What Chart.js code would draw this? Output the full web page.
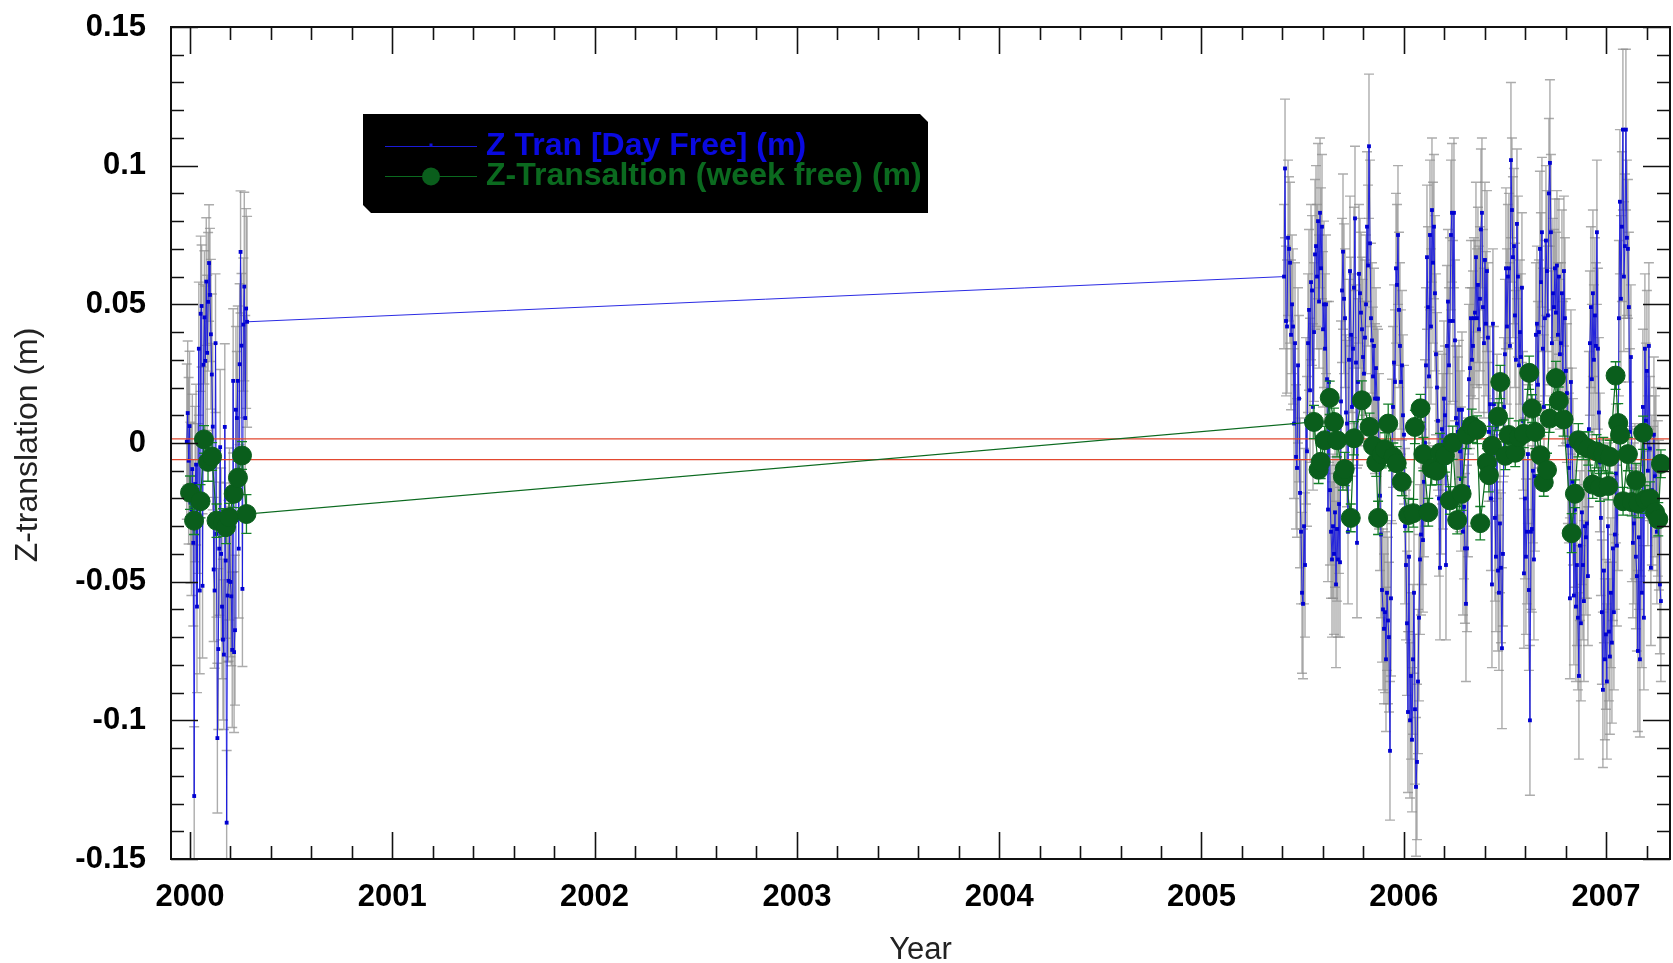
<!DOCTYPE html>
<html>
<head>
<meta charset="utf-8">
<script src="https://cdn.jsdelivr.net/npm/chart.js@4.4.1/dist/chart.umd.min.js"></script>
<style>
  html, body { margin: 0; padding: 0; background: #ffffff; }
  canvas { display: block; }
</style>
</head>
<body>
<canvas id="chart" width="1673" height="963"></canvas>
<script>
// ---- Daily solutions (Z translation, metres), first campaign early 2000 ----
const dayStart2000 = 1999.984;
const dayEnd2000 = 2000.282;
const dayZ2000 = [
  0.0005, 0.0108, -0.0064, 0.0061, -0.0215, -0.0240, -0.0094, -0.0360, -0.1273, -0.0148,
  -0.0078, -0.0590, -0.0200, 0.0340, -0.0532, 0.0466, 0.0494, -0.0515, 0.0282, 0.0453,
  0.0296, 0.0582, 0.0325, 0.0509, 0.0649, 0.0534, 0.0392, 0.0247, 0.0059, -0.0456,
  -0.0532, 0.0360, -0.0328, -0.1064, -0.0743, -0.0381, -0.0015, -0.0400, -0.0590, -0.0709,
  -0.0763, 0.0058, -0.0424, -0.1369, -0.0550, -0.0497, -0.0328, -0.0501, -0.0553, -0.0746,
  0.0224, -0.0754, -0.0675, 0.0120, 0.0090, 0.0224, -0.0381, 0.0284, 0.0689, 0.0351,
  -0.0526, 0.0427, 0.0564, 0.0090, 0.0485, 0.0437
];
// one-sigma of each daily value, millimetres
const dayErrMm2000 = [
  28,26,30,27,29,31,27,30,25,28, 29,31,27,24,30,28,22,26,29,24,
  27,23,28,25,21,24,27,29,30,26, 28,25,30,27,29,24,28,31,26,29,
  27,30,28,26,24,29,31,27,25,28, 26,29,27,30,24,27,25,29,22,26,
  28,24,34,37,36,38
];

// ---- Daily solutions, second campaign mid 2005 - 2007 ----
const dayStart2005 = 2005.408;
const dayEnd2005 = 2007.271;
const dayZ2005 = [
  0.060, 0.099, 0.044, 0.042, 0.074, 0.070, 0.065, 0.039, 0.050, 0.042,
  0.007, 0.036, -0.005, -0.009, 0.028, 0.016, -0.018, -0.032, -0.054, -0.058,
  -0.030, -0.044, 0.008, -0.003, 0.036, 0.048, 0.019, 0.058, 0.055, 0.013,
  0.040, 0.068, 0.071, 0.060, 0.080, 0.051, 0.083, 0.063, 0.078, 0.041,
  0.050, 0.034, 0.050, 0.023, -0.024, 0.022, -0.017, -0.032, -0.042, -0.030,
  -0.040, -0.025, -0.051, -0.031, -0.042, -0.022, -0.043, 0.015, 0.055, 0.069,
  0.052, 0.045, 0.011, 0.007, -0.032, 0.030, 0.062, 0.039, 0.013, 0.034,
  0.056, 0.081, 0.029, -0.036, 0.022, 0.061, 0.054, 0.047, 0.041, 0.031,
  0.025, 0.038, 0.050, 0.078, 0.064, 0.107, 0.072, 0.045, 0.037, 0.024,
  0.035, 0.016, 0.027, 0.016,
  0.016, -0.003, -0.019, -0.033, -0.053, -0.060, -0.067, -0.061, -0.078, -0.054,
  -0.064, -0.070, -0.111, -0.056, -0.003, 0.013, 0.029, 0.022, 0.063, 0.057,
  0.075, 0.048, 0.035, 0.022, 0.028, 0.010, 0.003, -0.030, -0.044, -0.065,
  -0.097, -0.041, -0.100, -0.084, -0.107, -0.078, -0.054, -0.096, -0.124, -0.115,
  -0.086, -0.063, -0.042, -0.033, -0.023, -0.035, -0.014, 0.000, 0.028, 0.067,
  0.049, 0.024, 0.075, 0.042, 0.084, 0.065, 0.078, 0.054, 0.032, 0.020,
  0.008, -0.020, -0.045, -0.010, 0.005, -0.003, 0.016, 0.010, -0.044, 0.035,
  0.051, 0.028, 0.044, 0.075, 0.083, 0.044, 0.083, 0.037, 0.009, 0.007,
  0.004, 0.012, -0.003, -0.013, 0.012, -0.032, -0.023, -0.038, -0.058, -0.038,
  -0.016, 0.023, 0.027, 0.045, 0.030, 0.035, 0.045,
  0.047, 0.067, 0.045, 0.057, 0.041, 0.052, 0.077, 0.083, 0.049, 0.036,
  0.066, 0.043, 0.062, 0.038, 0.004, 0.014, -0.020, -0.051, 0.043, 0.014,
  -0.027, -0.041, 0.006, -0.046, -0.054, -0.029, -0.045, -0.074, -0.040, 0.013,
  0.032, 0.063, 0.042, 0.060, 0.063, 0.035, 0.102, 0.084, 0.067, 0.071,
  0.046, 0.030, 0.079, 0.060, 0.028, 0.040, 0.031, 0.056, 0.008, -0.047,
  -0.020, -0.041, -0.032, -0.004, -0.053, -0.100, -0.032, -0.031, -0.010, -0.042,
  -0.012, 0.039, 0.043, 0.021, 0.040, 0.070, 0.058, 0.076, 0.034, 0.013,
  0.045, 0.073, 0.062, 0.046, 0.090, 0.101, 0.076, 0.036, 0.054, 0.049,
  0.063, 0.047, 0.064, 0.039, 0.060, 0.032, 0.036, 0.054, 0.025, 0.062,
  0.045, 0.026, 0.018, -0.001, -0.009, -0.056,
  0.022, -0.001, -0.014, -0.055, -0.024, -0.059, -0.044, -0.063, -0.084, -0.037,
  -0.065, -0.025, -0.044, -0.057, -0.030, -0.034, -0.029, -0.048, 0.005, 0.036,
  0.049, 0.023, 0.054, 0.030, 0.046, 0.035, 0.076, 0.034, 0.011, -0.007,
  -0.027, -0.061, -0.089, -0.046, -0.078, -0.069, -0.086, -0.030, -0.068, -0.077,
  -0.054, -0.072, -0.038, -0.061, -0.033, -0.011, -0.037, -0.019, 0.045, 0.087,
  0.052, 0.078, 0.113, 0.060, 0.071, 0.113, 0.074, 0.070, 0.049, 0.004,
  0.031, -0.022, -0.036, -0.029, -0.021, -0.041, -0.048, -0.075, -0.034, -0.078,
  -0.023, -0.054, 0.013, -0.063, 0.034, 0.008, 0.026, -0.010, 0.035, -0.002,
  -0.045, -0.017, -0.020, 0.003, -0.012, -0.007, -0.032, -0.020, -0.026, -0.051,
  -0.057
];
const dayErrMm2005 = [
  26,25,27,24,28,26,29,27,25,28, 27,29,26,25,28,30,27,26,29,27,
  28,26,30,27,25,29,26,28,27,30, 25,27,29,26,28,24,27,29,26,28,
  30,27,25,28,26,29,27,24,28,26, 29,27,30,26,28,25,27,29,26,28,
  27,25,28,30,26,29,27,28,25,27, 29,26,28,27,30,25,27,29,26,28,
  26,28,25,27,29,26,30,27,28,25, 28,27,29,26,25,28,27,30,26,29,
  27,29,26,28,30,27,25,28,26,29, 28,26,27,29,25,28,30,26,27,29,
  25,28,27,26,29,27,28,30,26,27, 29,27,25,28,26,30,27,29,28,26,
  27,30,28,26,29,25,27,28,26,29, 26,28,29,27,25,28,26,30,27,28,
  28,25,27,29,26,28,30,27,25,29, 27,29,26,28,27,25,29,26,28,30,
  26,27,28,30,25,27,29,28,26,27, 29,26,27,25,28,30,26,29,27,28,
  27,28,26,29,27,25,28,26,30,27, 28,30,27,26,29,28,25,27,29,26,
  25,27,29,28,26,27,30,28,26,29, 28,26,25,27,29,28,26,30,27,25,
  27,29,28,26,25,29,27,28,30,26, 29,27,26,28,30,26,28,25,27,29,
  26,28,27,29,25,27,30,28,26,27, 28,25,29,27,26,28,27,29,30,26,
  27,29,26,25,28,27,29,26,28,30, 25,28,27,29,26,30,27,28,26,27,
  29,26,28,27,25,28,26,29,27,30, 27,28,30,26,29,27,25,28,26,28,
  26,29,27,28,30,25,28,27,29,26, 28,27,25,29,27,28,26,30,27,29,
  27,26,29,28,25,27,30,26,28,27, 29,28,26,27,29,26,28,25,27,28,
  26,27,28,29,27,30,26,28,27,26, 28,29,27,26,28,27,25,29
];

// ---- Weekly solutions (Z translation, metres) ----
const weekYears = [
  2000.000, 2000.020, 2000.052, 2000.069, 2000.089, 2000.109, 2000.131, 2000.163, 2000.178, 2000.193,
  2000.216, 2000.237, 2000.257, 2000.279,
  2005.556, 2005.579, 2005.589, 2005.609, 2005.634, 2005.655, 2005.670, 2005.699, 2005.708, 2005.738,
  2005.754, 2005.793, 2005.831, 2005.848, 2005.864, 2005.873, 2005.891, 2005.907, 2005.923, 2005.948,
  2005.965, 2005.990, 2006.022, 2006.047, 2006.055, 2006.083, 2006.097, 2006.121, 2006.138, 2006.163,
  2006.179, 2006.204, 2006.228, 2006.242, 2006.264, 2006.286, 2006.311, 2006.336, 2006.362, 2006.378,
  2006.411, 2006.421, 2006.436, 2006.466, 2006.477, 2006.502, 2006.519, 2006.551, 2006.568, 2006.593,
  2006.620, 2006.634, 2006.650, 2006.675, 2006.692, 2006.708, 2006.721, 2006.752, 2006.766, 2006.790,
  2006.830, 2006.846, 2006.863, 2006.887, 2006.912, 2006.934, 2006.953, 2006.970, 2006.986, 2007.011,
  2007.019, 2007.047, 2007.060, 2007.069, 2007.084, 2007.108, 2007.127, 2007.148, 2007.159, 2007.183,
  2007.193, 2007.217, 2007.242, 2007.258, 2007.271
];
const weekZ = [
  -0.0179, -0.0280, -0.0210, 0.0013, -0.0068, -0.0049, -0.0280, -0.0287, -0.0303, -0.0268,
  -0.0183, -0.0125, -0.0045, -0.0256,
  0.0076, -0.0096, -0.0068, 0.0010, 0.0163, 0.0076, 0.0010, -0.0120, -0.0094, -0.0270,
  0.0017, 0.0154, 0.0058, -0.0010, -0.0070, -0.0270, -0.0040, -0.0023, 0.0070, -0.0050,
  -0.0073, -0.0140, -0.0260, -0.0253, 0.0058, 0.0125, -0.0040, -0.0250, -0.0092, -0.0100,
  -0.0035, -0.0045, -0.0207, 0.0001, -0.0278, -0.0183, 0.0030, 0.0062, 0.0048, -0.0289,
  -0.0070, -0.0116, -0.0010, 0.0095, 0.0220, -0.0046, 0.0029, -0.0035, 0.0020, 0.0033,
  0.0253, 0.0124, 0.0040, -0.0044, -0.0142, -0.0097, 0.0088, 0.0234, 0.0152, 0.0085,
  -0.0325, -0.0183, 0.0010, -0.0010, -0.0020, -0.0150, -0.0030, -0.0160, -0.0040, -0.0155,
  -0.0050, 0.0243, 0.0072, 0.0030, -0.0210, -0.0040, -0.0213, -0.0134, -0.0219, 0.0037,
  -0.0204, -0.0200, -0.0250, -0.0275, -0.0075
];
const weekErrMm = [
  6,5,6,5,7,5,6,5,6,5, 5,6,5,7,6,5,6,5,6,5,
  6,5,6,5,6,7,5,6,5,6, 5,6,7,5,6,5,6,5,6,5,
  6,5,6,5,7,6,5,6,5,6, 5,6,5,6,5,6,7,5,6,5,
  6,5,6,5,6,5,6,7,5,6, 5,6,5,6,7,5,6,5,6,5,
  6,5,6,5,6,5,7,6,5,6, 5,6,5,6,5,6,5,6,5
];

// ---- Reference levels and axis ticks ----
const refLevels = [0.0015, -0.0060];
const xTickYears = [2000, 2001, 2002, 2003, 2004, 2005, 2006, 2007];
const yTickValues = [-0.15, -0.1, -0.05, 0, 0.05, 0.1, 0.15];
const yTickLabels = ['-0.15', '-0.1', '-0.05', '0', '0.05', '0.1', '0.15'];
const xRange = [1999.906, 2007.316];
const yRange = [-0.15, 0.15];

const FONT = '"Liberation Sans", Arial, Helvetica, sans-serif';

// evenly sampled daily epochs for a campaign
function campaign(start, end, values, errMm) {
  const step = (end - start) / (values.length - 1);
  return {
    pts: values.map((v, i) => ({ x: start + i * step, y: v })),
    err: errMm.map(e => e / 1000)
  };
}
const c2000 = campaign(dayStart2000, dayEnd2000, dayZ2000, dayErrMm2000);
const c2005 = campaign(dayStart2005, dayEnd2005, dayZ2005, dayErrMm2005);
const dayPoints = c2000.pts.concat(c2005.pts);
const dayErrors = c2000.err.concat(c2005.err);
const weekPoints = weekYears.map((t, i) => ({ x: t, y: weekZ[i] }));
const weekErrors = weekErrMm.map(e => e / 1000);

// vertical error bars with caps, drawn just beneath their own series
const errorBars = {
  id: 'errorBars',
  beforeDatasetDraw(chart, args) {
    const ds = chart.data.datasets[args.index];
    if (!ds.errors) return;
    const { ctx, chartArea: a, scales: { x, y } } = chart;
    ctx.save();
    ctx.beginPath();
    ctx.rect(a.left, a.top, a.right - a.left, a.bottom - a.top);
    ctx.clip();
    ctx.strokeStyle = ds.errorColor;
    ctx.lineWidth = ds.errorWidth;
    const cap = ds.capHalf;
    ds.data.forEach((p, i) => {
      const e = ds.errors[i];
      const px = x.getPixelForValue(p.x);
      const top = y.getPixelForValue(p.y + e);
      const bot = y.getPixelForValue(p.y - e);
      ctx.beginPath();
      ctx.moveTo(px, top); ctx.lineTo(px, bot);
      ctx.moveTo(px - cap, top); ctx.lineTo(px + cap, top);
      ctx.moveTo(px - cap, bot); ctx.lineTo(px + cap, bot);
      ctx.stroke();
    });
    ctx.restore();
  }
};

// frame with inward ticks on all four sides, tick labels, axis titles and legend
const frame = {
  id: 'frame',
  afterDraw(chart) {
    const { ctx, chartArea: a, scales: { x, y } } = chart;
    ctx.save();
    ctx.strokeStyle = '#111';
    ctx.lineWidth = 2;
    ctx.strokeRect(a.left, a.top, a.right - a.left, a.bottom - a.top);

    const major = 27, minor = 13;
    ctx.lineWidth = 1.6;
    ctx.beginPath();
    for (let k = -15; k <= 15; k++) {
      const py = Math.round(y.getPixelForValue(k / 100)) + 0.5;
      const len = (k % 5 === 0) ? major : minor;
      ctx.moveTo(a.left, py); ctx.lineTo(a.left + len, py);
      ctx.moveTo(a.right, py); ctx.lineTo(a.right - len, py);
    }
    for (let k = 0; k <= 40; k++) {
      const t = 2000 + k * 0.2;
      if (t > xRange[1]) break;
      const px = Math.round(x.getPixelForValue(t)) + 0.5;
      const len = (k % 5 === 0) ? major : minor;
      ctx.moveTo(px, a.bottom); ctx.lineTo(px, a.bottom - len);
      ctx.moveTo(px, a.top); ctx.lineTo(px, a.top + len);
    }
    ctx.stroke();

    // tick labels
    ctx.fillStyle = '#000';
    ctx.font = 'bold 31px ' + FONT;
    ctx.textAlign = 'right';
    ctx.textBaseline = 'middle';
    yTickValues.forEach((v, i) => {
      ctx.fillText(yTickLabels[i], 146, y.getPixelForValue(v));
    });
    ctx.textAlign = 'center';
    xTickYears.forEach(t => {
      ctx.fillText(String(t), x.getPixelForValue(t), 897);
    });

    // axis titles
    ctx.fillStyle = '#222';
    ctx.font = '31px ' + FONT;
    ctx.fillText('Year', (a.left + a.right) / 2, 950);
    ctx.save();
    ctx.translate(28, 445);
    ctx.rotate(-Math.PI / 2);
    ctx.font = '32px ' + FONT;
    ctx.fillText('Z-translation (m)', 0, 0);
    ctx.restore();

    // legend box with clipped corners
    ctx.fillStyle = '#000';
    ctx.beginPath();
    ctx.moveTo(363, 114);
    ctx.lineTo(920, 114);
    ctx.lineTo(928, 122);
    ctx.lineTo(928, 213);
    ctx.lineTo(371, 213);
    ctx.lineTo(363, 205);
    ctx.closePath();
    ctx.fill();

    ctx.lineWidth = 1.2;
    ctx.strokeStyle = '#1a1ad8';
    ctx.beginPath(); ctx.moveTo(385, 146.5); ctx.lineTo(477, 146.5); ctx.stroke();
    ctx.fillStyle = '#1010d8';
    ctx.fillRect(429.5, 143.5, 3, 3);

    ctx.strokeStyle = '#0b6a1f';
    ctx.beginPath(); ctx.moveTo(385, 176.5); ctx.lineTo(477, 176.5); ctx.stroke();
    ctx.fillStyle = '#0a5e1c';
    ctx.beginPath(); ctx.arc(431, 176.5, 9, 0, Math.PI * 2); ctx.fill();

    ctx.font = 'bold 32px ' + FONT;
    ctx.textAlign = 'left';
    ctx.textBaseline = 'alphabetic';
    ctx.fillStyle = '#0a0ae0';
    ctx.fillText('Z Tran [Day Free] (m)', 486, 155);
    ctx.fillStyle = '#0b6a1f';
    ctx.fillText('Z-Transaltion (week free) (m)', 486, 185);
    ctx.restore();
  }
};

const refDatasets = refLevels.map(v => ({
  data: [{ x: xRange[0], y: v }, { x: xRange[1], y: v }],
  showLine: true,
  borderColor: '#e2472f',
  borderWidth: 1.3,
  pointRadius: 0,
  order: 2
}));

new Chart(document.getElementById('chart'), {
  type: 'scatter',
  data: {
    datasets: [
      {
        label: 'Z Tran [Day Free] (m)',
        data: dayPoints,
        showLine: true,
        borderColor: 'rgba(25,25,225,0.92)',
        borderWidth: 1,
        pointStyle: 'rect',
        pointRadius: 2.7,
        pointBackgroundColor: '#0000d2',
        pointBorderWidth: 0,
        order: 3,
        errors: dayErrors,
        errorColor: 'rgba(140,140,140,0.72)',
        errorWidth: 1.4,
        capHalf: 5
      },
      ...refDatasets,
      {
        label: 'Z-Transaltion (week free) (m)',
        data: weekPoints,
        showLine: true,
        borderColor: '#0b6a1f',
        borderWidth: 1.2,
        pointStyle: 'circle',
        pointRadius: 9.5,
        pointBackgroundColor: '#0a5e1c',
        pointBorderColor: '#0a5e1c',
        pointBorderWidth: 1,
        order: 1,
        errors: weekErrors,
        errorColor: '#14802a',
        errorWidth: 1.3,
        capHalf: 5
      }
    ]
  },
  options: {
    responsive: false,
    animation: false,
    devicePixelRatio: 1,
    layout: { autoPadding: false, padding: { left: 171, right: 3, top: 27, bottom: 104 } },
    plugins: { legend: { display: false }, tooltip: { enabled: false } },
    elements: { line: { tension: 0 } },
    scales: {
      x: { type: 'linear', min: xRange[0], max: xRange[1], display: false },
      y: { type: 'linear', min: yRange[0], max: yRange[1], display: false }
    }
  },
  plugins: [errorBars, frame]
});
</script>
</body>
</html>
